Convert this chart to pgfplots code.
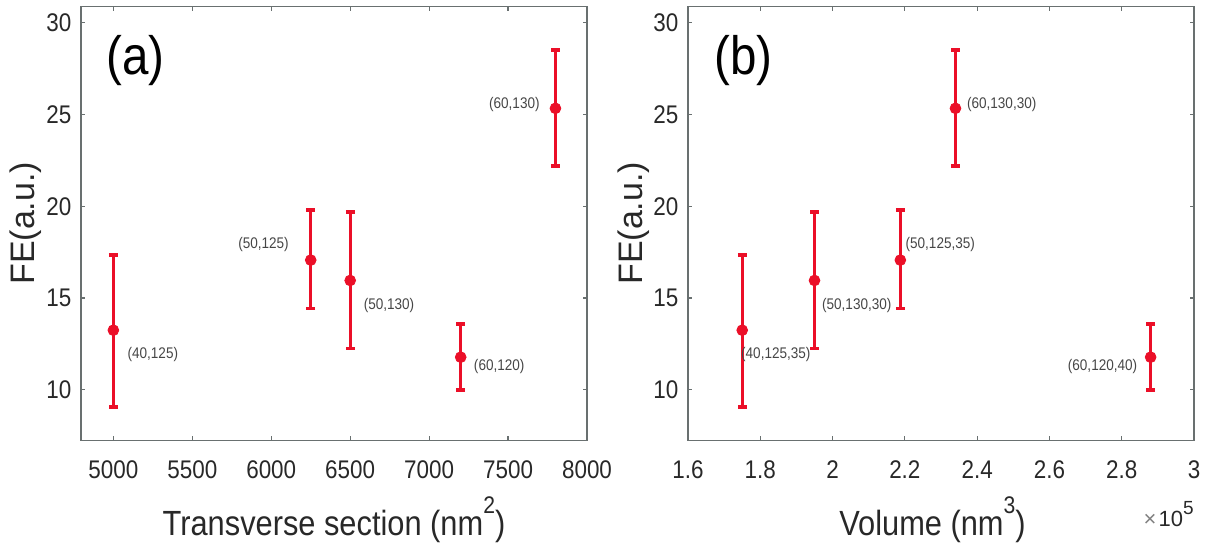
\documentclass[border=0pt]{standalone}
\usepackage{fontspec}
\setmainfont{Liberation Sans}[FakeStretch=0.88]
\newfontfamily\plainsans{Liberation Sans}
\usepackage{pgfplots}
\pgfplotsset{compat=1.18}
\definecolor{redm}{RGB}{235,15,40}
\definecolor{axc}{RGB}{105,112,112}
\definecolor{txt}{RGB}{40,40,40}
\definecolor{lblc}{RGB}{70,70,70}

\pgfplotstableread{
x y ep em
5000 13.25 4.10 4.20
6250 17.07 2.73 2.64
6500 15.96 3.74 3.71
7200 11.78 1.81 1.78
7800 25.34 3.19 3.15
}\dataA
\pgfplotstableread{
x y ep em
1.75   13.25 4.10 4.20
1.95   15.96 3.74 3.71
2.1875 17.07 2.73 2.64
2.34   25.34 3.19 3.15
2.88   11.78 1.81 1.78
}\dataB

\tikzset{
  lbl/.style={font=\fontsize{7.7}{9}\selectfont, text=lblc, inner sep=0pt, anchor=center},
  pan/.style={font=\fontsize{27}{30}\selectfont, text=black, inner sep=0pt, anchor=west},
}
\newcommand{\sups}[1]{\raisebox{11pt}{\fontsize{12}{12}\selectfont #1}}
\pgfplotsset{
 mystyle/.style={
  scale only axis, width=253pt, height=217pt,
  ymin=7.25, ymax=30.9,
  ytick={10,15,20,25,30},
  axis line style={axc, line width=0.6pt},
  tick style={axc, line width=0.6pt},
  tick align=inside, major tick length=2.2pt,
  tick label style={font=\fontsize{12.75}{14}\selectfont, text=txt},
  /pgf/number format/assume math mode=true,
  /pgf/number format/set thousands separator={},
  scaled x ticks=false, scaled y ticks=false,
  xticklabel style={anchor=north, inner sep=0pt, yshift=-9.85pt},
  yticklabel style={anchor=east, inner sep=0pt, xshift=-4.6pt},
  every axis x label/.style={at={([yshift=-47.35pt]axis description cs:0.5,0)}, anchor=base, inner sep=0pt, font=\fontsize{17.5}{20}\selectfont, text=txt},
  every axis y label/.style={at={([xshift=-23pt]axis description cs:0,0.5)}, rotate=90, anchor=base, inner sep=0pt, font=\plainsans\fontsize{17}{19}\selectfont, text=txt},
  ylabel={FE(a.u.)},
 },
 errstyle/.style={
  only marks, mark=*, mark size=2.7pt, color=redm,
  mark options={fill=redm, draw=redm},
  error bars/.cd, y dir=both, y explicit,
  error bar style={line width=1.6pt, redm},
  error mark options={line width=1.8pt, mark size=2.2pt, redm, rotate=90},
 },
}

\begin{document}
\begin{tikzpicture}
\begin{axis}[mystyle, at={(0pt,0pt)}, anchor=south west,
  xmin=4795, xmax=8000, xtick={5000,5500,6000,6500,7000,7500,8000},
  xlabel={Transverse section (nm\sups{2})}]
\addplot+[errstyle] table[x=x, y=y, y error plus=ep, y error minus=em] {\dataA};
\node[pan] at (rel axis cs:0.049,0.8757) {(a)};
\node[lbl] at (axis cs:5250,11.95) {(40,125)};
\node[lbl] at (axis cs:5951,17.93) {(50,125)};
\node[lbl] at (axis cs:6746,14.58) {(50,130)};
\node[lbl] at (axis cs:7444,11.28) {(60,120)};
\node[lbl] at (axis cs:7540,25.57) {(60,130)};
\end{axis}
\begin{axis}[mystyle, name=B, at={(303.5pt,0pt)}, anchor=south west,
  xmin=1.6, xmax=3, xtick={1.6,1.8,2,2.2,2.4,2.6,2.8,3},
  xlabel={Volume (nm\sups{3})},
  every axis x label/.append style={at={([xshift=-4.25pt,yshift=-47.35pt]axis description cs:0.5,0)}}]
\addplot+[errstyle] table[x=x, y=y, y error plus=ep, y error minus=em] {\dataB};
\node[pan] at (rel axis cs:0.051,0.8757) {(b)};
\node[lbl] at (axis cs:1.843,11.91) {(40,125,35)};
\node[lbl] at (axis cs:2.067,14.62) {(50,130,30)};
\node[lbl] at (axis cs:2.298,17.93) {(50,125,35)};
\node[lbl] at (axis cs:2.468,25.57) {(60,130,30)};
\node[lbl] at (axis cs:2.747,11.28) {(60,120,40)};
\end{axis}
\node[anchor=base east, inner sep=0pt, font=\plainsans\fontsize{11}{12}\selectfont, text=txt] at ([yshift=-43.2pt]B.south east) {{\color{gray}×}\kern1pt10\raisebox{5.9pt}{\fontsize{9.5}{10}\selectfont 5}};
\pgfresetboundingbox
\useasboundingbox (-40.5pt,-52.85pt) rectangle (564.5pt,220.15pt);
\end{tikzpicture}
\end{document}
